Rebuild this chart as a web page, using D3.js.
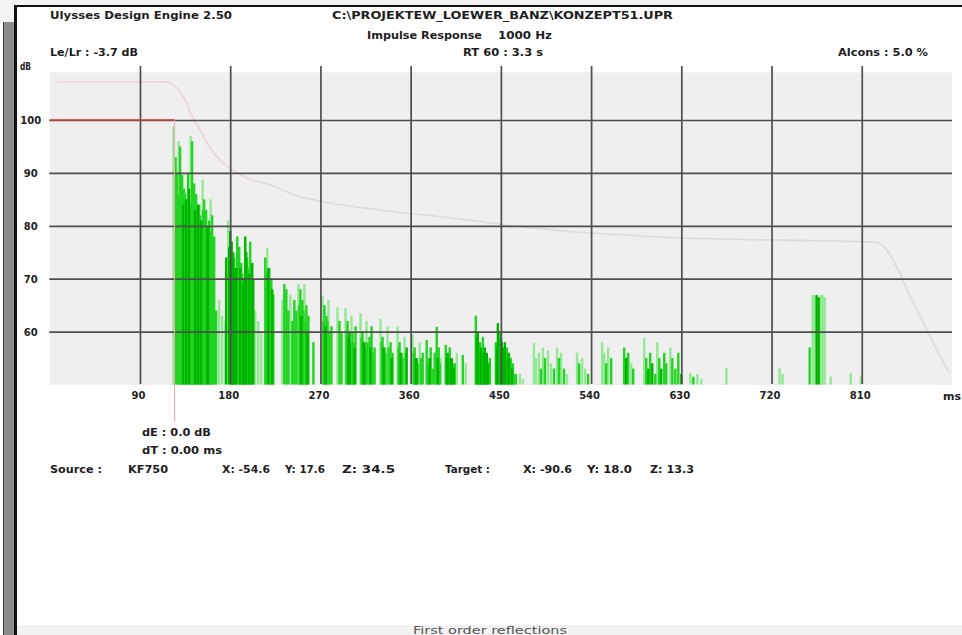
<!DOCTYPE html>
<html><head><meta charset="utf-8">
<script src="https://cdn.jsdelivr.net/npm/d3@7"></script>
<style>
html,body{margin:0;padding:0;background:#fff;overflow:hidden}
svg{display:block}
text{font-family:"DejaVu Sans","Liberation Sans",Arial,sans-serif;font-weight:bold;fill:#1e1e1e;font-size:10px}
</style></head><body><svg id="c" width="962" height="635"></svg>
<script>
// ---- axis ticks ----
const xTickValues = [90, 180, 270, 360, 450, 540, 630, 720, 810];
const xTickLabels = ["90", "180", "270", "360", "450", "540", "630", "720", "810"];
const yTickValues = [60, 70, 80, 90, 100];
const yTickLabels = ["60", "70", "80", "90", "100"];

// ---- reflections: arrival time (ms), level (dB), shade (L light, B bright, D dark) ----
const reflTime = [
 123.5,125.5,127,128.5,130,132,134,136,138,140.5,142,144,146,148,150,152.5,154,156,158,160.5,162,164,166,169,172,175,
 178,180,181.5,183,185,187,189,191,193,195,197,200,202,205,208,211,215,217,219,221,223,232,234,236,238,240,242,244,
 248,250,252,254,256,258,263,272,274,276,278,281,287,289,291,295,297,299,301,303,305,310,312,314,316,319,321,324,
 330,332,334,337,340,342,347,349,351,354,356,362,364,366,369,372,
 376,378,380,386,388,390,395,397,399,401,404,406,412,415,425,427,429,432,434,436,439,445,447,449,451,454,456,458,460,462,465,469,472,
 483,485,488,490,492,494,497,500,503,
 506,508,510,513,516,526,528,531,534,537,551,553,555,557,560,573,575,577,580,582,
 593,595,597,599,601,604,606,608,610,613,615,619,621,624,627,630,639,642,646,650,
 675,728,731,758,761,763,765,767,769,771,773,779,799,809,
 129,131,133,135,137,139,141,143,145,147,149,151,153,155,157,159,161,163,
 176,179,182,184,186,188,190,192,194,196,198,199,201,203,
 216,218,220,222, 246,249,251,253,255,257, 273,275,277,279, 296,298,300,302,304,
 311,313,315,317,320,322, 331,333,335,338,341, 348,350,352,355, 363,365,367,370,
 377,379,382,384,387,389, 396,398,400,402,403, 426,428,430,431,433,435,437,
 446,448,450,452,453,455,457,459,461,463
];
const reflLevel = [
 98.8,93,90,96,95,89.6,87,85,90,97,96,88,86,84,82,88.7,85,83,80,85,82,78,64,66,63,62,
 81,79,77,75,72,78,76,73,69,78,74,77,73,64,62,60,74,75.8,72,70,67,66,69,68,64,67,62,66,
 69,68,66,69,65,63,58,66.8,65,63,66,61,64.6,62,60,64.4,62,60,63,58,61,63.5,60,58,62,59,61,57,
 62.4,59,57,61,58,56,60.9,58,56,59,57,59.4,57,55,58,56,
 58.4,55,57,60.9,57,55,57.5,56,57,55,54,56,55.6,54,63,60,58,59,57,56,55,58,61.6,60,58,58,57,56,55,54,52,52,51,
 57.8,55,56,53,57,55,56.5,54,53,
 57,55,56,53,52,56,54,55,53,52,58,56,54,57,55,57,55,56,54,53,
 58.8,55,53,56,54,52,58,55,53,56,54,57,55,53,56,52,52.2,51.5,52,51,
 53.1,53.1,52,57,66.9,66.9,66.9,66.5,66.9,66.9,66.5,51.5,52.2,51.5,
 86,88,84,86,85,87,84,85,83,82,84,81,83,82,80,81,79,76,
 74,76,73,74,72,74,72,71,70,75,72,71,72,70,
 71,72,70,68, 64,65,63,64,62,60, 62,61,62,60, 60,59,58,60,57,
 59,58,57,58,57,56, 58,57,56,57,55, 57,56,55,56, 56,55,54,55,
 54,55,53,56,55,54, 55,54,55,54,53, 59,57,57,56,56,55,54,
 57,58,59,56,57,56,55,54,53,52
];
const reflShade = [
 "L","B","B","L","B","B","B","D","B","L","B","B","B","D","B","L","B","B","D","L","B","B","B","L","L","L",
 "L","D","D","D","D","B","B","B","D","D","B","B","D","L","L","L","B","L","B","B","B","L","B","B","B","L","B","B",
 "L","B","B","L","B","B","B","L","B","B","L","B","L","B","B","L","B","D","L","B","B","L","B","D","L","B","B","B",
 "L","B","B","L","B","B","L","B","B","L","D","L","B","D","L","B",
 "B","L","B","B","B","L","B","D","B","D","B","L","B","L","B","D","B","B","D","D","B","B","D","B","D","D","B","D","B","B","B","L","L",
 "L","L","L","B","L","B","L","L","B",
 "L","B","L","B","L","L","B","L","L","B","L","L","B","L","B","B","D","B","L","B",
 "L","B","D","B","D","B","L","B","D","B","B","L","B","B","B","D","L","B","L","L",
 "L","L","L","B","L","L","D","D","L","L","L","L","L","L",
 "B","B","D","B","B","D","B","B","D","B","B","D","B","B","D","B","B","B",
 "D","D","D","B","D","B","D","B","D","D","B","D","B","D",
 "B","D","B","D", "B","B","D","B","B","D", "B","D","B","B", "B","D","B","B","D",
 "B","D","B","B","D","B", "B","D","B","B","D", "B","D","B","B", "B","D","B","B",
 "B","D","B","B","D","B", "D","B","D","B","D", "D","B","D","B","D","B","D",
 "D","B","D","B","D","B","D","B","D","B"
];

// ---- energy decay curve: time (ms), level (dB) ----
const curveTime  = [5,115,125,130,135,140,150,160,170,180,195,220,245,280,330,400,480,560,630,730,825,835,860,880,897];
const curveLevel = [107.2,107.2,106.4,105.3,103.8,101.5,98.1,94.7,92.4,90.9,89.2,87.7,85.8,84.3,83.0,81.5,79.6,78.4,77.7,77.3,76.9,75.4,66.0,58.4,52.2];

// ---- direct sound marker ----
const directTime = 124.5;
const directLevel = 100;

const svg = d3.select("#c");
const x = d3.scaleLinear().domain([0, 900]).range([49.75, 952]);
const y = d3.scaleLinear().domain([50, 109]).range([384.5, 72.4]);

// frame
svg.append("rect").attr("x",0).attr("y",0).attr("width",962).attr("height",635).attr("fill","#fff");
svg.append("rect").attr("x",0).attr("y",0).attr("width",962).attr("height",5).attr("fill","#f3f3f3");
svg.append("rect").attr("x",0).attr("y",0).attr("width",14).attr("height",22).attr("fill","#f3f3f3");
svg.append("rect").attr("x",3).attr("y",22).attr("width",1.5).attr("height",613).attr("fill","#333");
svg.append("rect").attr("x",4.5).attr("y",22).attr("width",9.5).attr("height",613).attr("fill","#8c8c8c");
svg.append("rect").attr("x",14).attr("y",5).attr("width",3).attr("height",630).attr("fill","#111");
svg.append("rect").attr("x",14).attr("y",5).attr("width",948).attr("height",2).attr("fill","#111");
svg.append("rect").attr("x",17).attr("y",625).attr("width",945).attr("height",10).attr("fill","#f2f2f2");

// plot background
svg.append("rect").attr("x",x(0)).attr("y",y(109)).attr("width",x(900)-x(0)).attr("height",y(50)-y(109)+0.5).attr("fill","#efefef");

// decay curve
const grad = svg.append("defs").append("linearGradient").attr("id","cg").attr("gradientUnits","userSpaceOnUse")
  .attr("x1",x(0)).attr("x2",x(900)).attr("y1",0).attr("y2",0);
grad.append("stop").attr("offset","0%").attr("stop-color","#f2d8df");
grad.append("stop").attr("offset","18%").attr("stop-color","#ecd0d8");
grad.append("stop").attr("offset","24%").attr("stop-color","#dcdcdc");
grad.append("stop").attr("offset","100%").attr("stop-color","#dadada");
svg.append("path").datum(curveTime.map((t,i)=>[t,curveLevel[i]]))
  .attr("fill","none").attr("stroke","url(#cg)").attr("stroke-width",1.6)
  .attr("d", d3.line().x(d=>x(d[0])).y(d=>y(d[1])).curve(d3.curveMonotoneX));

// bars
const shadeColor = {L:"#93e893", B:"#22d422", D:"#00b400"};
const shadeOrder = {L:0, B:1, D:2};
const bars = reflTime.map((t,i)=>({t, v:reflLevel[i], s:reflShade[i]}))
  .sort((a,b)=>shadeOrder[a.s]-shadeOrder[b.s]);
svg.append("g").selectAll("rect").data(bars).join("rect")
  .attr("x", d=>x(d.t)-1.2).attr("width", 2.4)
  .attr("y", d=>y(d.v)).attr("height", d=>y(50)-y(d.v))
  .attr("fill", d=>shadeColor[d.s]);

// grid via axes
const yAxis = d3.axisLeft(y).tickValues(yTickValues).tickFormat((d,i)=>yTickLabels[i])
  .tickSizeInner(-(952-49.3)).tickSizeOuter(0).tickPadding(0);
const gy = svg.append("g").attr("transform","translate(49.3,0)").call(yAxis);
gy.select(".domain").remove();
gy.selectAll("line").attr("stroke","#4e4e4e").attr("stroke-width",1.7);
gy.selectAll("text").attr("x",-18.5).attr("dy","0.38em").attr("text-anchor","middle")
  .attr("font-family",null).attr("font-size",null).attr("fill","#1e1e1e");

const xAxis = d3.axisBottom(x).tickValues(xTickValues).tickFormat((d,i)=>xTickLabels[i])
  .tickSizeInner(-(384-66)).tickSizeOuter(0).tickPadding(8);
const gx = svg.append("g").attr("transform","translate(0,384)").call(xAxis);
gx.select(".domain").remove();
gx.selectAll("line").attr("stroke","#4e4e4e").attr("stroke-width",1.7);
gx.selectAll("text").attr("x",-2).attr("font-family",null).attr("font-size",null).attr("fill","#1e1e1e");

// direct sound markers
svg.append("line").attr("x1",x(0)).attr("x2",x(directTime)).attr("y1",y(directLevel)).attr("y2",y(directLevel))
  .attr("stroke","#d83a3a").attr("stroke-width",1.6);
svg.append("line").attr("x1",x(directTime)).attr("x2",x(directTime)).attr("y1",y(directLevel)).attr("y2",422)
  .attr("stroke","#f0a6b6").attr("stroke-width",1);

// texts
function label(str, x0, cy, w, anchor){
  const t = svg.append("text").attr("x",x0).attr("y",cy+3.6).text(str);
  if (anchor) t.attr("text-anchor",anchor);
  if (w) t.attr("textLength",w).attr("lengthAdjust","spacingAndGlyphs");
  return t;
}
label("Ulysses Design Engine 2.50", 50, 15, 182);
label("C:\\PROJEKTEW_LOEWER_BANZ\\KONZEPT51.UPR", 332, 15, 341);
label("Impulse Response", 367, 35, 115);
label("1000 Hz", 498, 35, 54);
label("Le/Lr : -3.7 dB", 50, 52, 88);
label("RT 60 : 3.3 s", 463, 52, 80);
label("Alcons : 5.0 %", 838, 52, 90);
label("dB", 20, 66, 11);
label("ms", 943, 396, 18);
label("dE : 0.0 dB", 142, 432, 69);
label("dT : 0.00 ms", 142, 450, 80);
label("Source :", 50, 469, 52);
label("KF750", 128, 469, 40);
label("X: -54.6", 222, 469, 48);
label("Y: 17.6", 285, 469, 40);
label("Z: 34.5", 342, 469, 53);
label("Target :", 445, 469, 45);
label("X: -90.6", 523, 469, 49);
label("Y: 18.0", 587, 469, 45);
label("Z: 13.3", 650, 469, 44);
svg.append("text").attr("x",413).attr("y",633.5).attr("textLength",154).attr("lengthAdjust","spacingAndGlyphs")
  .style("font-weight","normal").style("fill","#555").text("First order reflections");
</script></body></html>
